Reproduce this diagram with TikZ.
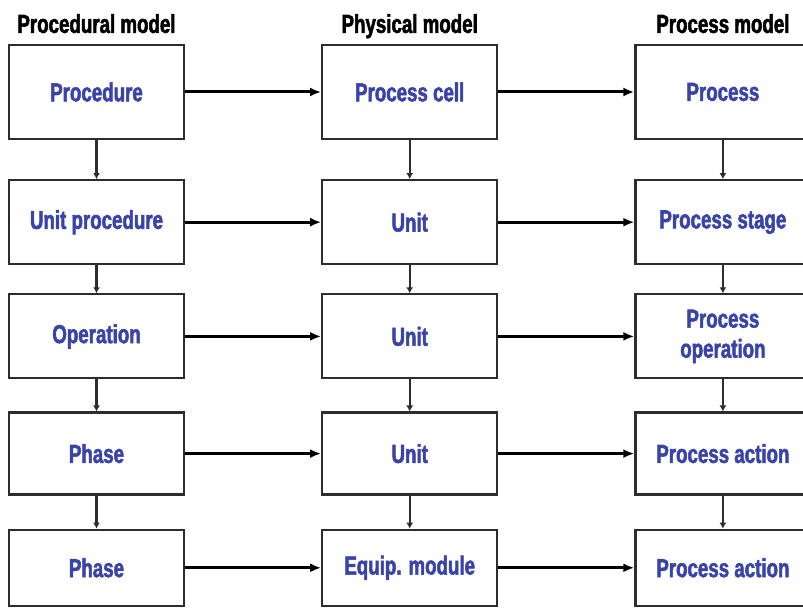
\documentclass[tikz,border=0pt]{standalone}
\usepackage{fontspec}
\usepackage{xcolor}
\usepackage{tikz}
\usetikzlibrary{arrows.meta, positioning}
\newfontfamily\condsans{Liberation Sans Bold}[FakeStretch=0.72, FakeBold=2]
\definecolor{textblue}{RGB}{58,68,168}
\definecolor{boxgray}{RGB}{45,45,45}

\begin{document}
\begin{tikzpicture}[
  x=1pt, y=1pt,
  node distance=136pt,
  box/.style={
    draw=boxgray,
    line width=2.2pt,
    minimum width=175pt,
    minimum height=84pt,
    inner sep=2pt,
    align=center,
    text=textblue,
    font=\condsans\fontsize{26}{30}\selectfont
  },
  heading/.style={text=black, inner sep=0pt, font=\condsans\fontsize{26}{30}\selectfont},
  arrow/.style={-{Latex[length=11pt,width=9pt]}, line width=3pt, black},
  down/.style={-{Latex[length=6pt,width=7pt]}, line width=2.2pt, boxgray}
]
\useasboundingbox (0,0) rectangle (803,608);

% top row
\node[box, minimum height=94pt] (procedure) at (96.5,516) {Procedure};
\node[box, minimum height=94pt, right=of procedure] (cell) {Process cell};
\node[box, minimum height=94pt, right=of cell] (process) {Process};
% column headings
\node[heading, above=11pt of procedure, anchor=base] (hproc) {Procedural model};
\node[heading, above=11pt of cell, anchor=base] (hphys) {Physical model};
\node[heading, above=11pt of process, anchor=base] (hprocess) {Process model};
% second row
\node[box, below=39pt of procedure] (unitproc) {Unit procedure};
\node[box, right=of unitproc] (unita) {Unit};
\node[box, right=of unita] (stage) {Process stage};
% third row
\node[box, below=28pt of unitproc] (operation) {Operation};
\node[box, right=of operation] (unitb) {Unit};
\node[box, right=of unitb] (procop) {Process\\operation};
% fourth row
\node[box, minimum height=82pt, below=32pt of operation] (phasea) {Phase};
\node[box, minimum height=82pt, right=of phasea] (unitc) {Unit};
\node[box, minimum height=82pt, right=of unitc] (actiona) {Process action};
% fifth row
\node[box, minimum height=76pt, below=33pt of phasea] (phaseb) {Phase};
\node[box, minimum height=76pt, right=of phaseb] (module) {Equip. module};
\node[box, minimum height=76pt, right=of module] (actionb) {Process action};

% across the models
\draw[arrow] (procedure) -- (cell);
\draw[arrow] (cell) -- (process);
\draw[arrow] (unitproc) -- (unita);
\draw[arrow] (unita) -- (stage);
\draw[arrow] (operation) -- (unitb);
\draw[arrow] (unitb) -- (procop);
\draw[arrow] (phasea) -- (unitc);
\draw[arrow] (unitc) -- (actiona);
\draw[arrow] (phaseb) -- (module);
\draw[arrow] (module) -- (actionb);

% down each model
\draw[down] (procedure) -- (unitproc);
\draw[down] (unitproc) -- (operation);
\draw[down] (operation) -- (phasea);
\draw[down] (phasea) -- (phaseb);
\draw[down] (cell) -- (unita);
\draw[down] (unita) -- (unitb);
\draw[down] (unitb) -- (unitc);
\draw[down] (unitc) -- (module);
\draw[down] (process) -- (stage);
\draw[down] (stage) -- (procop);
\draw[down] (procop) -- (actiona);
\draw[down] (actiona) -- (actionb);
\end{tikzpicture}
\end{document}
